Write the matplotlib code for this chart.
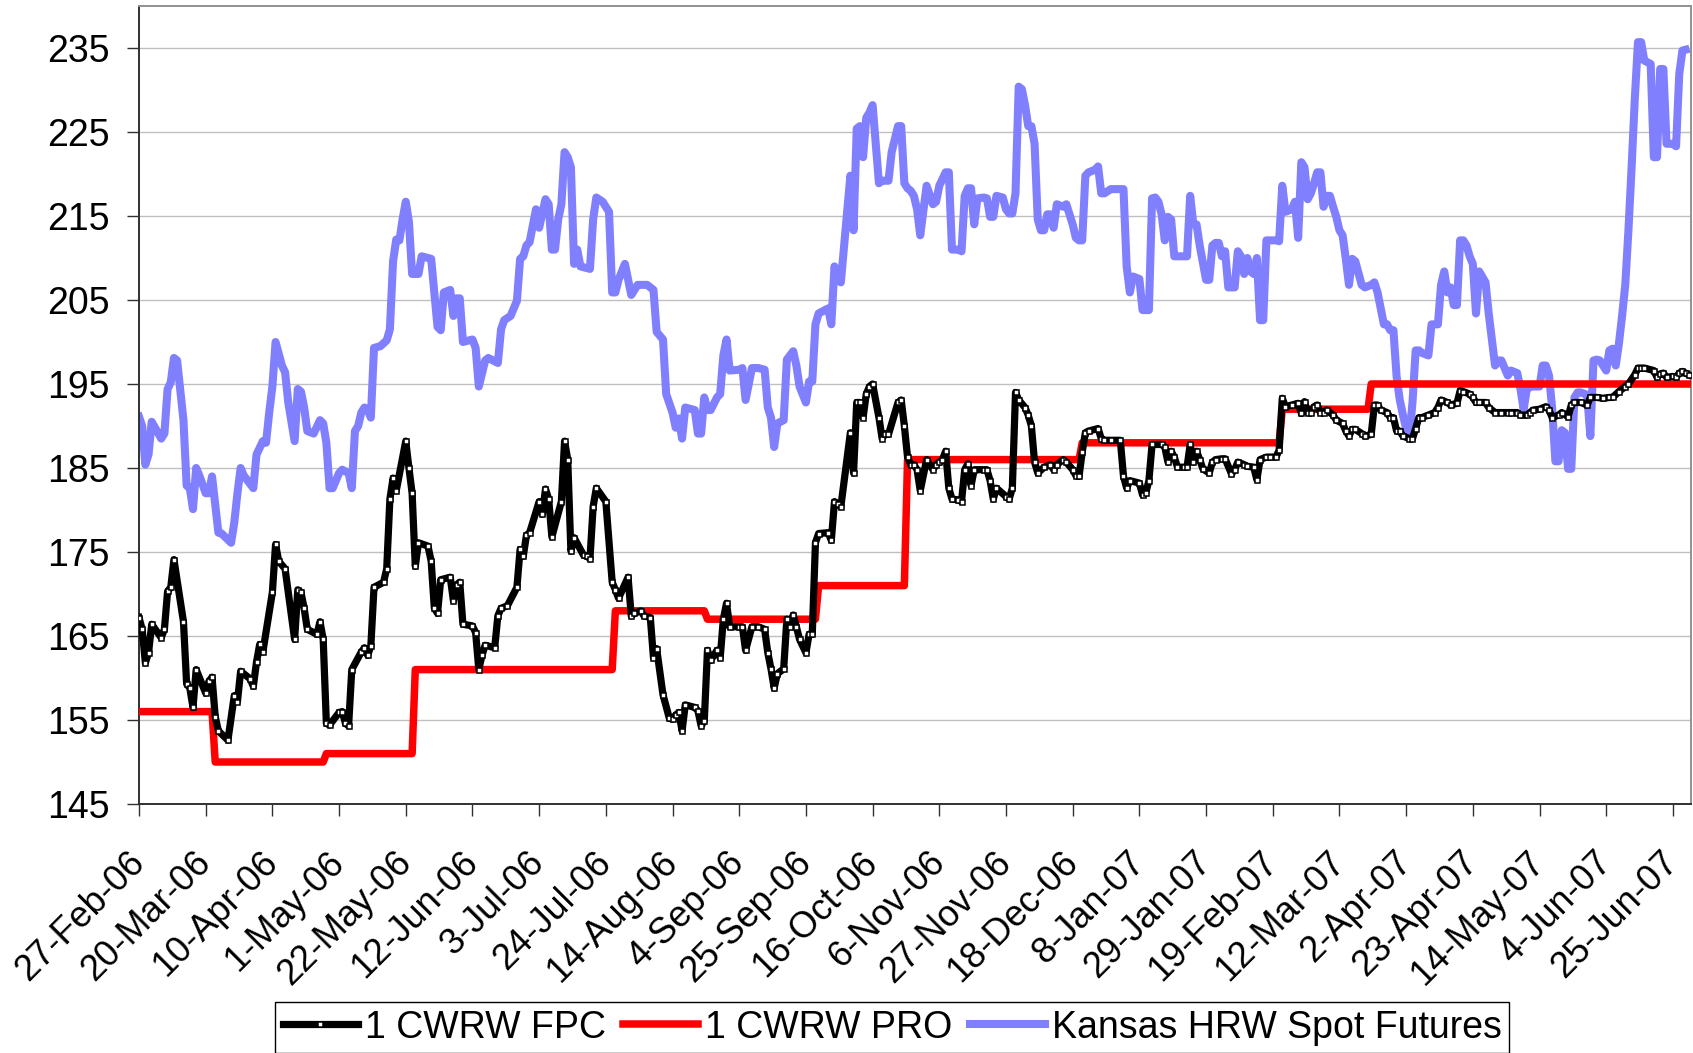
import numpy as np
import matplotlib
matplotlib.use('Agg')
import matplotlib.pyplot as plt
import matplotlib.dates as mdates
from datetime import datetime

plt.rcParams['font.family'] = ['Liberation Sans', 'DejaVu Sans']

start_date = np.datetime64('2006-02-27')

# ---- 1 CWRW FPC (day offset from 27-Feb-06, value) ----
fpc_day = [0, 1, 2, 3, 4, 7, 8, 9, 10, 11, 14, 15, 16, 17, 18, 21, 22, 23, 24, 25, 28, 30, 31, 32, 35, 36, 37, 38, 39,
           42, 43, 44, 46, 49, 50, 51, 52, 53, 56, 57, 58, 59, 60, 63, 64, 65, 66, 67, 70, 71, 72, 73, 74, 77, 78, 79,
           80, 81, 84, 85, 86, 87, 88, 91, 92, 93, 94, 95, 98, 99, 100, 101, 102, 105, 106, 107, 108, 109, 112, 113,
           114, 116, 119, 120, 121, 122, 123, 126, 127, 128, 129, 130, 133, 134, 135, 136, 137, 140, 141, 142, 143,
           144, 147, 149, 150, 151, 154, 155, 156, 158, 159, 161, 162, 163, 165, 167, 168, 169, 170, 171, 172, 175,
           176, 177, 178, 179, 180, 182, 183, 184, 185, 186, 189, 190, 191, 193, 195, 197, 198, 199, 200, 201, 203,
           204, 205, 206, 207, 208, 210, 211, 212, 213, 214, 217, 218, 219, 220, 221, 224, 225, 226, 227, 228, 229,
           230, 231, 233, 234, 235, 236, 239, 240, 241, 242, 243, 244, 245, 246, 248, 250, 251, 252, 253, 254, 255,
           256, 258, 259, 260, 261, 262, 263, 266, 267, 268, 269, 270, 273, 274, 275, 276, 277, 279, 280, 281, 282,
           283, 285, 287, 288, 289, 291, 292, 294, 295, 296, 297, 298, 299, 302, 303, 304, 306, 309, 310, 311, 312,
           315, 316, 317, 318, 319, 322, 323, 324, 325, 326, 327, 329, 330, 331, 332, 333, 334, 335, 337, 338, 339,
           341, 342, 344, 345, 346, 348, 349, 351, 352, 353, 355, 356, 358, 359, 360, 361, 363, 365, 366, 367, 368,
           369, 370, 371, 372, 373, 374, 376, 377, 379, 380, 381, 382, 383, 385, 386, 388, 389, 390, 391, 393, 394,
           395, 396, 397, 398, 400, 401, 402, 403, 404, 406, 408, 409, 410, 412, 413, 415, 416, 417, 419, 420, 421,
           422, 424, 425, 427, 429, 431, 432, 434, 435, 437, 438, 439, 441, 443, 444, 445, 447, 448, 450, 451, 452,
           454, 456, 457, 459, 461, 463, 464, 466, 468, 469, 471, 472, 473, 474, 477, 478, 479, 480, 481, 483, 484,
           485, 486, 487, 488]
fpc_val = [167.2, 165.8, 161.8, 163.0, 166.4, 164.8, 165.8, 170.3, 170.8, 174.1, 166.7, 159.3, 158.8, 156.5, 161.0,
           158.2, 159.6, 160.1, 155.4, 153.7, 152.6, 157.9, 157.2, 160.8, 159.9, 159.0, 161.9, 164.0, 163.1, 170.2,
           175.9, 173.9, 173.0, 164.6, 170.5, 170.2, 168.3, 165.8, 165.2, 166.7, 164.6, 154.6, 154.4, 155.9, 156.0,
           154.6, 154.3, 161.0, 163.1, 163.6, 162.7, 163.8, 170.8, 171.4, 173.0, 181.3, 183.8, 182.3, 188.2, 185.0,
           182.0, 173.3, 176.1, 175.7, 173.9, 168.3, 167.7, 171.7, 172.0, 169.2, 171.1, 171.4, 166.4, 166.2, 165.4,
           161.0, 162.7, 163.9, 163.6, 167.4, 168.3, 168.6, 170.8, 175.3, 174.5, 177.0, 177.3, 181.0, 179.5, 182.5,
           181.3, 176.8, 181.0, 188.2, 186.0, 175.1, 176.7, 174.6, 174.5, 174.2, 180.4, 182.6, 181.0, 171.4, 170.5,
           169.5, 172.0, 167.4, 167.7, 168.0, 167.4, 167.2, 162.4, 163.5, 158.0, 155.2, 155.1, 155.6, 155.9, 153.7,
           156.8, 156.5, 156.1, 154.3, 154.9, 163.3, 162.1, 163.3, 162.4, 167.0, 168.9, 166.1, 166.1, 166.1, 163.3,
           166.1, 166.1, 165.8, 163.0, 161.1, 158.8, 160.5, 161.1, 167.0, 166.1, 167.5, 166.1, 164.6, 163.0, 165.2,
           165.2, 176.1, 177.2, 177.3, 176.4, 181.0, 180.7, 180.4, 189.2, 184.4, 192.8, 192.8, 191.0, 193.8, 194.7,
           195.0, 191.0, 188.5, 189.1, 189.0, 192.8, 193.1, 190.0, 186.3, 185.4, 185.4, 184.8, 182.3, 186.0, 184.8,
           185.4, 185.7, 186.0, 187.0, 182.6, 181.3, 181.2, 181.0, 184.8, 185.5, 182.9, 184.8, 184.8, 184.8, 183.5,
           181.3, 182.6, 181.6, 181.3, 182.6, 194.0, 193.1, 192.2, 191.3, 190.0, 185.7, 184.4, 185.1, 185.4, 184.8,
           185.4, 186.0, 185.7, 184.8, 184.1, 184.0, 186.9, 189.2, 189.4, 189.7, 188.5, 188.3, 188.3, 188.3, 184.0,
           182.6, 183.5, 183.2, 181.8, 182.0, 183.5, 187.8, 187.8, 187.5, 185.7, 187.0, 186.3, 185.1, 185.1, 185.1,
           187.8, 185.7, 187.0, 186.0, 184.9, 184.4, 185.7, 186.0, 186.1, 186.1, 184.3, 184.8, 185.7, 185.4, 185.2,
           185.1, 183.6, 186.0, 186.3, 186.3, 186.3, 187.1, 193.3, 192.3, 192.5, 192.7, 191.5, 192.9, 191.6, 191.6,
           192.3, 192.5, 191.6, 191.6, 191.9, 191.3, 190.7, 190.3, 189.4, 188.8, 189.6, 189.6, 189.1, 188.8, 189.0,
           192.5, 192.5, 191.9, 191.6, 191.0, 191.0, 189.4, 189.4, 188.8, 188.5, 188.5, 189.7, 191.0, 191.0, 191.3,
           191.6, 192.2, 193.1, 192.8, 192.5, 192.7, 194.2, 194.1, 193.8, 193.4, 192.8, 192.8, 192.8, 192.2, 191.6,
           191.6, 191.6, 191.6, 191.6, 191.3, 191.3, 191.6, 191.9, 192.0, 192.3, 191.9, 191.0, 191.3, 191.6, 191.1,
           192.5, 192.8, 192.8, 192.5, 193.4, 193.4, 193.3, 193.4, 193.4, 194.1, 194.7, 195.0, 196.1, 196.9, 196.9,
           196.9, 196.6, 195.8, 196.2, 196.3, 195.8, 195.9, 195.8, 196.3, 196.5, 196.3, 196.1]

# ---- 1 CWRW PRO (step levels) ----
pro_day = [0, 23, 24, 58, 59, 86, 87, 149, 150, 178, 179, 213, 214, 241, 242, 296, 297, 359, 360, 387, 388, 488]
pro_val = [156, 156, 150, 150, 151, 151, 161, 161, 168, 168, 167, 167, 171, 171, 186, 186, 188, 188, 192, 192,
           195, 195]

# ---- Kansas HRW Spot Futures ----
hrw_day = [0, 1, 2, 3, 4, 7, 8, 9, 10, 11, 12, 14, 15, 16, 17, 18, 19, 21, 22, 23, 24, 25, 26, 29, 30, 31, 32, 33,
           36, 37, 39, 40, 41, 42, 43, 45, 46, 47, 49, 50, 51, 52, 53, 55, 57, 58, 59, 60, 61, 63, 64, 66, 67, 68,
           69, 70, 71, 72, 73, 74, 76, 78, 79, 80, 81, 82, 83, 84, 85, 86, 88, 89, 92, 93, 94, 95, 96, 98, 99, 100,
           101, 102, 105, 106, 107, 109, 110, 113, 114, 115, 117, 119, 120, 121, 122, 123, 125, 126, 128, 129, 130,
           131, 132, 133, 134, 135, 136, 137, 138, 139, 142, 143, 144, 146, 148, 149, 150, 151, 153, 155, 157, 160,
           162, 163, 165, 166, 168, 169, 170, 171, 172, 175, 176, 177, 178, 179, 180, 182, 183, 184, 185, 186, 189,
           190, 191, 193, 195, 197, 198, 199, 200, 201, 203, 204, 205, 206, 207, 208, 210, 211, 212, 213, 214, 217,
           218, 219, 220, 221, 224, 225, 226, 227, 228, 229, 230, 231, 233, 234, 235, 236, 237, 239, 240, 241, 242,
           243, 244, 245, 246, 248, 250, 251, 252, 254, 255, 256, 258, 259, 260, 261, 262, 263, 264, 266, 267, 268,
           269, 270, 272, 273, 274, 275, 276, 277, 278, 279, 280, 281, 282, 283, 284, 285, 286, 287, 288, 289, 291,
           292, 294, 295, 296, 297, 298, 299, 301, 302, 303, 304, 306, 310, 311, 312, 313, 315, 316, 318, 319, 320,
           321, 322, 323, 324, 325, 326, 330, 331, 332, 333, 334, 336, 337, 338, 339, 340, 341, 342, 343, 345, 346,
           347, 348, 349, 350, 351, 352, 353, 354, 355, 356, 358, 359, 360, 361, 363, 364, 365, 366, 367, 368, 369,
           370, 371, 372, 373, 374, 375, 376, 377, 378, 379, 380, 381, 382, 383, 385, 386, 388, 389, 390, 391, 392,
           393, 394, 395, 396, 397, 398, 399, 400, 401, 402, 403, 404, 406, 407, 409, 410, 411, 412, 413, 414, 415,
           416, 417, 418, 419, 420, 421, 422, 424, 425, 426, 427, 428, 429, 431, 432, 434, 435, 436, 437, 438, 440,
           441, 442, 443, 444, 445, 446, 447, 448, 449, 450, 451, 452, 453, 454, 456, 457, 458, 459, 460, 461, 462,
           463, 464, 465, 466, 467, 468, 469, 470, 471, 472, 473, 474, 476, 477, 478, 479, 480, 481, 483, 484, 485,
           486, 487]
hrw_val = [191.1, 190.0, 185.4, 186.6, 190.5, 188.5, 189.1, 194.4, 195.2, 198.1, 197.8, 190.7, 182.9, 182.6, 180.1,
           185.0, 184.1, 182.0, 182.0, 184.0, 180.7, 177.3, 177.2, 176.1, 178.5, 182.0, 185.0, 184.1, 182.6, 186.6,
           188.2, 188.0, 191.6, 194.7, 200.0, 197.2, 196.4, 192.8, 188.2, 194.4, 194.1, 192.2, 189.4, 189.1, 190.7,
           190.3, 188.0, 182.6, 182.6, 184.4, 184.8, 184.4, 182.6, 189.4, 190.0, 191.6, 192.2, 191.9, 191.0, 199.3,
           199.5, 200.2, 201.5, 209.6, 212.2, 212.1, 214.6, 216.7, 214.3, 208.1, 208.1, 210.2, 209.9, 205.9, 201.8,
           201.4, 205.9, 206.2, 203.1, 205.2, 205.2, 200.0, 200.3, 199.3, 194.7, 197.8, 198.1, 197.5, 201.5, 202.6,
           203.1, 204.9, 209.9, 210.2, 211.5, 211.9, 215.8, 213.6, 217.0, 216.4, 211.0, 211.0, 214.6, 216.4, 222.6,
           222.0, 220.8, 209.3, 211.0, 209.0, 208.7, 214.6, 217.2, 216.7, 215.5, 205.9, 205.9, 207.4, 209.3, 205.6,
           206.8, 206.8, 206.2, 201.2, 200.3, 193.8, 191.6, 189.8, 190.9, 188.5, 192.2, 191.9, 189.1, 189.1, 193.4,
           191.9, 191.9, 193.4, 193.8, 198.4, 200.3, 196.6, 196.7, 196.9, 193.1, 196.9, 196.9, 196.7, 192.2, 191.0,
           187.5, 190.3, 190.7, 197.9, 198.4, 198.9, 197.2, 194.7, 192.8, 195.3, 195.3, 202.1, 203.4, 204.0, 202.1,
           209.0, 207.4, 207.1, 219.8, 213.3, 225.4, 225.7, 222.0, 226.7, 227.3, 228.2, 218.9, 219.2, 219.2, 219.2,
           222.6, 225.7, 225.7, 218.9, 218.3, 218.0, 217.4, 215.8, 212.7, 218.6, 216.4, 216.7, 218.6, 220.2, 220.2,
           211.0, 211.0, 210.8, 217.4, 218.3, 218.3, 214.0, 217.1, 217.2, 217.1, 214.9, 214.9, 217.4, 217.2, 215.8,
           215.3, 215.3, 217.7, 230.4, 230.1, 228.2, 225.7, 225.7, 223.6, 214.6, 213.3, 213.3, 215.2, 215.2, 213.6,
           216.4, 216.1, 216.4, 214.0, 212.4, 212.1, 212.1, 219.8, 220.2, 220.5, 220.9, 217.7, 217.7, 218.2, 218.2,
           209.0, 205.9, 207.8, 207.5, 203.8, 203.8, 217.1, 217.2, 216.7, 215.2, 212.1, 214.9, 214.6, 210.2, 210.2,
           217.4, 214.0, 214.0, 211.5, 207.4, 207.4, 211.5, 211.8, 211.8, 210.2, 210.8, 206.5, 206.5, 210.8, 210.2,
           208.1, 210.0, 208.4, 208.1, 210.0, 202.6, 202.6, 212.1, 212.1, 212.1, 212.0, 218.6, 215.5, 215.8, 216.7,
           212.4, 221.4, 220.8, 217.0, 217.7, 218.9, 220.2, 220.2, 216.1, 217.4, 217.4, 216.1, 214.9, 213.3, 212.7,
           209.9, 206.8, 209.9, 209.6, 206.8, 206.5, 206.8, 207.1, 205.9, 204.0, 202.1, 202.1, 201.4, 201.4, 195.9,
           193.1, 191.3, 189.7, 188.5, 192.8, 199.0, 199.0, 198.7, 198.4, 202.1, 202.1, 206.8, 208.4, 205.9, 206.5,
           204.4, 204.4, 212.1, 212.1, 211.5, 210.2, 209.3, 203.4, 208.4, 207.1, 203.4, 200.3, 197.2, 197.8, 197.8,
           196.0, 196.6, 196.3, 194.4, 192.0, 194.4, 194.7, 194.7, 194.7, 197.2, 197.2, 196.0, 192.0, 185.8, 185.8,
           189.5, 189.2, 184.9, 184.9, 193.4, 194.0, 194.0, 193.7, 188.8, 197.8, 197.9, 197.8, 197.2, 196.6, 199.0,
           199.2, 197.2, 199.8, 203.1, 206.8, 213.3, 220.8, 228.9, 235.7, 235.7, 233.5, 233.1, 222.0, 222.0, 232.5,
           232.5, 223.6, 223.6, 223.3, 231.9, 234.7, 234.8]

tick_labels = ['27-Feb-06', '20-Mar-06', '10-Apr-06', '1-May-06', '22-May-06', '12-Jun-06', '3-Jul-06',
               '24-Jul-06', '14-Aug-06', '4-Sep-06', '25-Sep-06', '16-Oct-06', '6-Nov-06', '27-Nov-06',
               '18-Dec-06', '8-Jan-07', '29-Jan-07', '19-Feb-07', '12-Mar-07', '2-Apr-07', '23-Apr-07',
               '14-May-07', '4-Jun-07', '25-Jun-07']
y_ticks = [145, 155, 165, 175, 185, 195, 205, 215, 225, 235]
series_names = ['1 CWRW FPC', '1 CWRW PRO', 'Kansas HRW Spot Futures']


def to_dates(days):
    return start_date + np.array(days).astype('timedelta64[D]')


fpc_dates = to_dates(fpc_day)
pro_dates = to_dates(pro_day)
hrw_dates = to_dates(hrw_day)
tick_dates = [datetime.strptime(t, '%d-%b-%y') for t in tick_labels]

W, H = 1693, 1053
fig = plt.figure(figsize=(W / 100, H / 100), dpi=100)
ax = fig.add_axes([139 / W, 249 / H, (1691 - 139) / W, (1047 - 249) / H])

l_hrw, = ax.plot(hrw_dates, hrw_val, color='#8080ff', lw=5.8, zorder=2)
l_pro, = ax.plot(pro_dates, pro_val, color='#ff0000', lw=5.4, zorder=3)
l_fpc, = ax.plot(fpc_dates, fpc_val, color='black', lw=5.2, marker='s', ms=3.6,
                 mfc='white', mec='black', mew=1.1, zorder=4)

x0 = mdates.date2num(start_date)
ax.set_xlim(x0, x0 + 488.7)
ax.set_ylim(145, 240)
ax.set_yticks(y_ticks)
ax.set_xticks(tick_dates)
ax.set_xticklabels(tick_labels, rotation=45, ha='right', va='center', rotation_mode='anchor')

ax.yaxis.grid(True, color='#c0c0c0', lw=1.0)
ax.set_axisbelow(True)

for side in ['left', 'bottom']:
    ax.spines[side].set_color('#303030')
    ax.spines[side].set_linewidth(1.4)
for side in ['top', 'right']:
    ax.spines[side].set_color('#909090')
    ax.spines[side].set_linewidth(1.4)

ax.tick_params(axis='y', direction='out', length=8.4, width=1.0, pad=13, labelsize=27, color='#303030')
ax.tick_params(axis='x', direction='out', length=8.4, width=1.0, pad=30, labelsize=26, color='#303030')

leg = fig.legend([l_fpc, l_pro, l_hrw], series_names, loc='lower center',
                 bbox_to_anchor=(0.527, 0.0), ncol=3, fontsize=27, frameon=True, fancybox=False,
                 edgecolor='black', framealpha=1, handlelength=2.0, handletextpad=0.2,
                 columnspacing=0.45, borderpad=0.2, borderaxespad=0.0, numpoints=1)
leg.get_frame().set_linewidth(1.0)

fig.savefig('out.png', dpi=100)
